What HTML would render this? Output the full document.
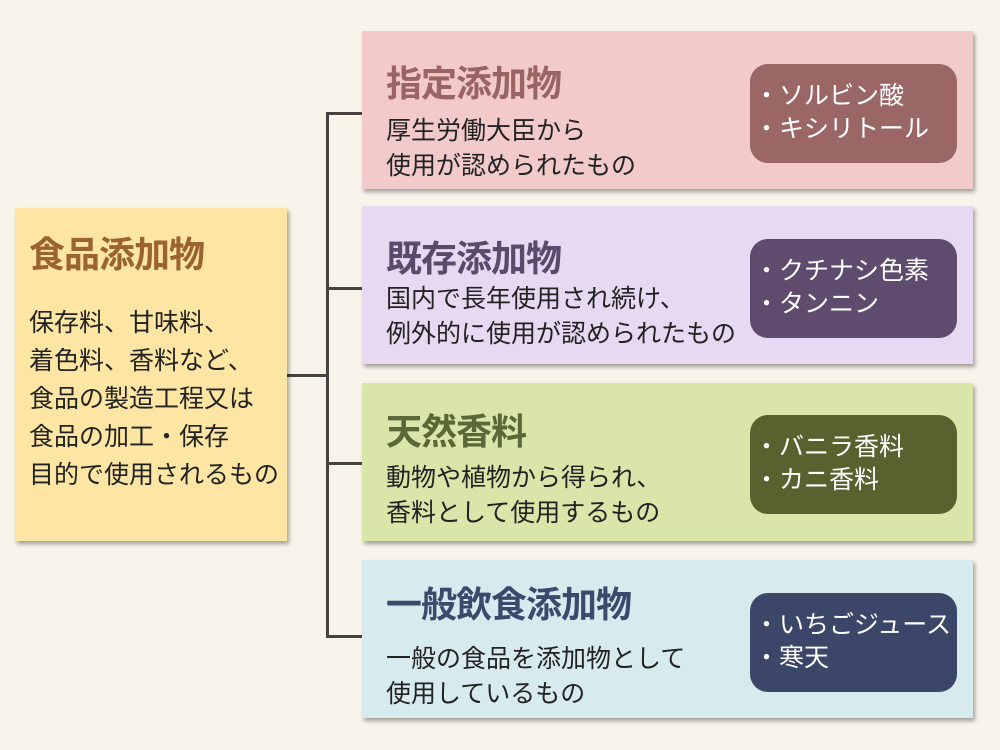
<!DOCTYPE html>
<html><head><meta charset="utf-8"><style>
body{margin:0;width:1000px;height:750px;background:#f8f4ea;position:relative;overflow:hidden;font-family:"Liberation Sans","Noto Sans CJK JP",sans-serif;}
.b{position:absolute;box-shadow:2px 3px 4px rgba(0,0,0,0.35);}
.t{position:absolute;font-weight:bold;font-size:36px;white-space:nowrap;letter-spacing:-1px;}
.d{position:absolute;font-size:25px;line-height:35px;color:#222;white-space:nowrap;}
.p{position:absolute;left:388px;width:207px;height:99px;border-radius:18px;color:#fff;font-size:25px;line-height:33px;box-sizing:border-box;padding:16px 0 0 4px;white-space:nowrap;}
.l{position:absolute;background:#4a4040;}
</style></head><body>
<div class="l" style="left:326px;top:112px;width:3px;height:526px"></div>
<div class="l" style="left:287px;top:374px;width:40px;height:3px"></div>
<div class="l" style="left:326px;top:112px;width:36px;height:3px"></div>
<div class="l" style="left:326px;top:287px;width:36px;height:3px"></div>
<div class="l" style="left:326px;top:462px;width:36px;height:3px"></div>
<div class="l" style="left:326px;top:635px;width:36px;height:3px"></div>

<div class="b" style="left:15px;top:208px;width:272px;height:333px;background:#fde5a3">
<div class="t" style="left:14px;top:18px;color:#9b6232">食品添加物</div>
<div class="d" style="left:14px;top:96px;line-height:38px">保存料、甘味料、<br>着色料、香料など、<br>食品の製造工程又は<br>食品の加工・保存<br>目的で使用されるもの</div>
</div>

<div class="b" style="left:362px;top:31px;width:611px;height:158px;background:#f2caca">
<div class="t" style="left:24px;top:24px;color:#9a6464">指定添加物</div>
<div class="d" style="left:24px;top:83px">厚生労働大臣から<br>使用が認められたもの</div>
<div class="p" style="top:33px;background:#9a6666">・ソルビン酸<br>・キシリトール</div>
</div>

<div class="b" style="left:362px;top:206px;width:611px;height:158px;background:#e6d9f1">
<div class="t" style="left:24px;top:24px;color:#5c4a6c">既存添加物</div>
<div class="d" style="left:24px;top:76px">国内で長年使用され続け、<br>例外的に使用が認められたもの</div>
<div class="p" style="top:33px;background:#5e4b6e">・クチナシ色素<br>・タンニン</div>
</div>

<div class="b" style="left:362px;top:383px;width:611px;height:158px;background:#d9e5a9">
<div class="t" style="left:24px;top:20px;color:#5a6838">天然香料</div>
<div class="d" style="left:24px;top:78px">動物や植物から得られ、<br>香料として使用するもの</div>
<div class="p" style="top:32px;background:#57622f">・バニラ香料<br>・カニ香料</div>
</div>

<div class="b" style="left:362px;top:560px;width:611px;height:158px;background:#d7eaee">
<div class="t" style="left:24px;top:16px;color:#3b4a6c">一般飲食添加物</div>
<div class="d" style="left:24px;top:82px">一般の食品を添加物として<br>使用しているもの</div>
<div class="p" style="top:33px;background:#3b4668">・いちごジュース<br>・寒天</div>
</div>
</body></html>
